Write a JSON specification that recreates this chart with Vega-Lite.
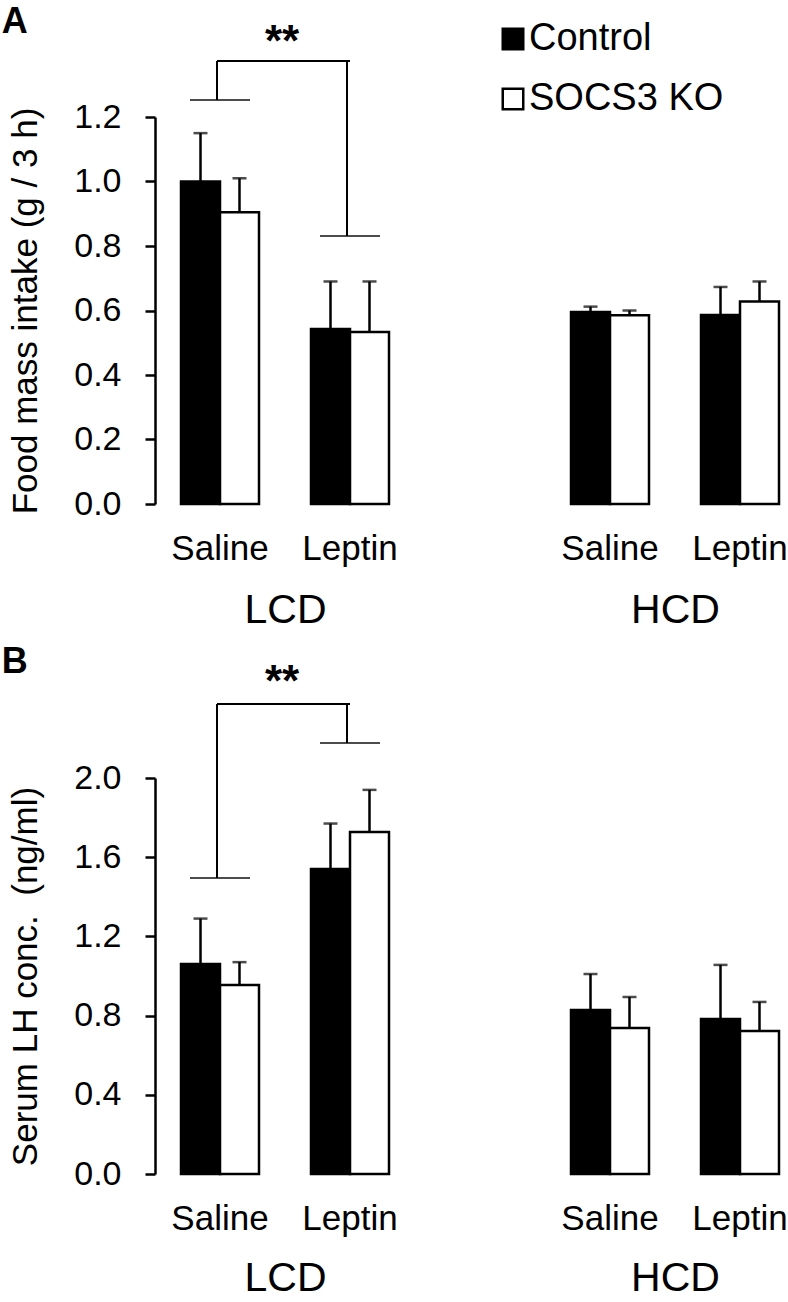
{
  "$schema": "https://vega.github.io/schema/vega-lite/v6.json",
  "padding": {"left": 1, "top": 3, "right": 2, "bottom": 0},
  "config": {
    "font": "Liberation Sans",
    "view": {"stroke": null},
    "axis": {"labelColor": "black", "titleColor": "black", "domainColor": "black", "tickColor": "black", "grid": false, "titleFontWeight": "normal"}
  },
  "resolve": {"scale": {"fill": "shared"}, "legend": {"fill": "shared"}},
  "spacing": 13,
  "vconcat": [
    {
      "title": {"text": "A", "anchor": "start", "frame": "bounds", "fontSize": 36, "fontWeight": "bold", "color": "black", "dx": -7, "offset": -20},
      "spacing": 130,
      "resolve": {"scale": {"fill": "shared"}, "legend": {"fill": "shared"}},
      "hconcat": [
        {
          "width": 260, "height": 387,
          "layer": [
            {
              "data": {"values": [
                {"treatment": "Saline", "genotype": "Control", "mean": 1.0, "upper": 1.15},
                {"treatment": "Saline", "genotype": "SOCS3 KO", "mean": 0.905, "upper": 1.01},
                {"treatment": "Leptin", "genotype": "Control", "mean": 0.543, "upper": 0.69},
                {"treatment": "Leptin", "genotype": "SOCS3 KO", "mean": 0.533, "upper": 0.69}
              ]},
              "layer": [
                {
                  "mark": {"type": "bar", "stroke": "black", "strokeWidth": 2.5},
                  "encoding": {
                    "x": {"field": "treatment", "type": "nominal", "scale": {"domain": ["Saline", "Leptin"], "paddingInner": 0.4, "paddingOuter": 0.2}, "axis": {"title": "LCD", "labelAngle": 0, "ticks": false, "domain": false, "labelFontSize": 35, "labelPadding": 27, "titleFontSize": 41, "titlePadding": 24, "titleFontWeight": "normal"}},
                    "xOffset": {"field": "genotype", "type": "nominal", "scale": {"domain": ["Control", "SOCS3 KO"]}},
                    "y": {"field": "mean", "type": "quantitative", "scale": {"domain": [0, 1.2], "nice": false}, "axis": {"title": "Food mass intake (g / 3 h)", "values": [0, 0.2, 0.4, 0.6, 0.8, 1.0, 1.2], "format": ".1f", "labelFontSize": 34, "titleFontSize": 35, "domainWidth": 2.5, "tickWidth": 2.5, "tickSize": 10, "labelPadding": 24, "titlePadding": 30}},
                    "fill": {"field": "genotype", "type": "nominal", "scale": {"domain": ["Control", "SOCS3 KO"], "range": ["black", "white"]}, "legend": {"title": null, "orient": "none", "legendX": 339, "legendY": -97, "symbolType": "square", "symbolSize": 420, "symbolStrokeColor": "black", "symbolStrokeWidth": 2.5, "labelFontSize": 38, "labelColor": "black", "labelLimit": 400, "rowPadding": 22, "labelOffset": -3}}
                  }
                },
                {
                  "mark": {"type": "rule", "strokeWidth": 2.5, "color": "black"},
                  "encoding": {
                    "x": {"field": "treatment", "type": "nominal", "scale": {"domain": ["Saline", "Leptin"]}},
                    "xOffset": {"field": "genotype", "type": "nominal", "scale": {"domain": ["Control", "SOCS3 KO"]}},
                    "y": {"field": "mean", "type": "quantitative", "scale": {"domain": [0, 1.2], "nice": false}},
                    "y2": {"field": "upper"}
                  }
                },
                {
                  "mark": {"type": "tick", "size": 14, "thickness": 2.5, "color": "black"},
                  "encoding": {
                    "x": {"field": "treatment", "type": "nominal", "scale": {"domain": ["Saline", "Leptin"]}},
                    "xOffset": {"field": "genotype", "type": "nominal", "scale": {"domain": ["Control", "SOCS3 KO"]}},
                    "y": {"field": "upper", "type": "quantitative", "scale": {"domain": [0, 1.2], "nice": false}}
                  }
                }
              ]
            },
            {
              "data": {"values": [
                {"treatment": "Saline", "level": 1.253, "top": 1.374},
                {"treatment": "Leptin", "level": 0.831, "top": 1.374}
              ]},
              "layer": [
                {
                  "mark": {"type": "tick", "size": 60, "thickness": 2, "color": "black"},
                  "encoding": {
                    "x": {"field": "treatment", "type": "nominal", "scale": {"domain": ["Saline", "Leptin"]}},
                    "y": {"field": "level", "type": "quantitative", "scale": {"domain": [0, 1.2], "nice": false}}
                  }
                },
                {
                  "mark": {"type": "rule", "strokeWidth": 2, "color": "black", "xOffset": -3},
                  "encoding": {
                    "x": {"field": "treatment", "type": "nominal", "scale": {"domain": ["Saline", "Leptin"]}},
                    "y": {"field": "level", "type": "quantitative", "scale": {"domain": [0, 1.2], "nice": false}},
                    "y2": {"field": "top"}
                  }
                }
              ]
            },
            {
              "data": {"values": [
                {"from": "Saline", "to": "Leptin", "top": 1.374, "star": 1.43, "label": "**"}
              ]},
              "layer": [
                {
                  "mark": {"type": "rule", "strokeWidth": 2, "color": "black", "xOffset": -3},
                  "encoding": {
                    "x": {"field": "from", "type": "nominal", "scale": {"domain": ["Saline", "Leptin"]}},
                    "x2": {"field": "to"},
                    "y": {"field": "top", "type": "quantitative", "scale": {"domain": [0, 1.2], "nice": false}}
                  }
                },
                {
                  "mark": {"type": "text", "fontSize": 44, "fontWeight": "bold", "color": "black", "dx": 62, "baseline": "middle", "align": "center"},
                  "encoding": {
                    "x": {"field": "from", "type": "nominal", "scale": {"domain": ["Saline", "Leptin"]}},
                    "y": {"field": "star", "type": "quantitative", "scale": {"domain": [0, 1.2], "nice": false}},
                    "text": {"field": "label"}
                  }
                }
              ]
            }
          ]
        },
        {
          "width": 260, "height": 387,
          "data": {"values": [
            {"treatment": "Saline", "genotype": "Control", "mean": 0.595, "upper": 0.612},
            {"treatment": "Saline", "genotype": "SOCS3 KO", "mean": 0.585, "upper": 0.6},
            {"treatment": "Leptin", "genotype": "Control", "mean": 0.586, "upper": 0.673},
            {"treatment": "Leptin", "genotype": "SOCS3 KO", "mean": 0.628, "upper": 0.69}
          ]},
          "layer": [
            {
              "mark": {"type": "bar", "stroke": "black", "strokeWidth": 2.5},
              "encoding": {
                "x": {"field": "treatment", "type": "nominal", "scale": {"domain": ["Saline", "Leptin"], "paddingInner": 0.4, "paddingOuter": 0.2}, "axis": {"title": "HCD", "labelAngle": 0, "ticks": false, "domain": false, "labelFontSize": 35, "labelPadding": 27, "titleFontSize": 41, "titlePadding": 24, "titleFontWeight": "normal"}},
                "xOffset": {"field": "genotype", "type": "nominal", "scale": {"domain": ["Control", "SOCS3 KO"]}},
                "y": {"field": "mean", "type": "quantitative", "scale": {"domain": [0, 1.2], "nice": false}, "axis": null},
                "fill": {"field": "genotype", "type": "nominal", "scale": {"domain": ["Control", "SOCS3 KO"], "range": ["black", "white"]}, "legend": {"title": null, "orient": "none", "legendX": 339, "legendY": -97, "symbolType": "square", "symbolSize": 420, "symbolStrokeColor": "black", "symbolStrokeWidth": 2.5, "labelFontSize": 38, "labelColor": "black", "labelLimit": 400, "rowPadding": 22, "labelOffset": -3}}
              }
            },
            {
              "mark": {"type": "rule", "strokeWidth": 2.5, "color": "black"},
              "encoding": {
                "x": {"field": "treatment", "type": "nominal", "scale": {"domain": ["Saline", "Leptin"]}},
                "xOffset": {"field": "genotype", "type": "nominal", "scale": {"domain": ["Control", "SOCS3 KO"]}},
                "y": {"field": "mean", "type": "quantitative", "scale": {"domain": [0, 1.2], "nice": false}},
                "y2": {"field": "upper"}
              }
            },
            {
              "mark": {"type": "tick", "size": 14, "thickness": 2.5, "color": "black"},
              "encoding": {
                "x": {"field": "treatment", "type": "nominal", "scale": {"domain": ["Saline", "Leptin"]}},
                "xOffset": {"field": "genotype", "type": "nominal", "scale": {"domain": ["Control", "SOCS3 KO"]}},
                "y": {"field": "upper", "type": "quantitative", "scale": {"domain": [0, 1.2], "nice": false}}
              }
            }
          ]
        }
      ]
    },
    {
      "title": {"text": "B", "anchor": "start", "frame": "bounds", "fontSize": 36, "fontWeight": "bold", "color": "black", "dx": -7, "offset": -20},
      "spacing": 130,
      "resolve": {"scale": {"fill": "shared"}, "legend": {"fill": "shared"}},
      "hconcat": [
        {
          "width": 260, "height": 396,
          "layer": [
            {
              "data": {"values": [
                {"treatment": "Saline", "genotype": "Control", "mean": 1.06, "upper": 1.29},
                {"treatment": "Saline", "genotype": "SOCS3 KO", "mean": 0.955, "upper": 1.07},
                {"treatment": "Leptin", "genotype": "Control", "mean": 1.54, "upper": 1.77},
                {"treatment": "Leptin", "genotype": "SOCS3 KO", "mean": 1.727, "upper": 1.94}
              ]},
              "layer": [
                {
                  "mark": {"type": "bar", "stroke": "black", "strokeWidth": 2.5},
                  "encoding": {
                    "x": {"field": "treatment", "type": "nominal", "scale": {"domain": ["Saline", "Leptin"], "paddingInner": 0.4, "paddingOuter": 0.2}, "axis": {"title": "LCD", "labelAngle": 0, "ticks": false, "domain": false, "labelFontSize": 35, "labelPadding": 27, "titleFontSize": 41, "titlePadding": 22, "titleFontWeight": "normal"}},
                    "xOffset": {"field": "genotype", "type": "nominal", "scale": {"domain": ["Control", "SOCS3 KO"]}},
                    "y": {"field": "mean", "type": "quantitative", "scale": {"domain": [0, 2.0], "nice": false}, "axis": {"title": "Serum LH conc.\u00a0 (ng/ml)", "values": [0, 0.4, 0.8, 1.2, 1.6, 2.0], "format": ".1f", "labelFontSize": 34, "titleFontSize": 35, "domainWidth": 2.5, "tickWidth": 2.5, "tickSize": 10, "labelPadding": 24, "titlePadding": 30}},
                    "fill": {"field": "genotype", "type": "nominal", "scale": {"domain": ["Control", "SOCS3 KO"], "range": ["black", "white"]}, "legend": {"title": null, "orient": "none", "legendX": 339, "legendY": -97, "symbolType": "square", "symbolSize": 420, "symbolStrokeColor": "black", "symbolStrokeWidth": 2.5, "labelFontSize": 38, "labelColor": "black", "labelLimit": 400, "rowPadding": 22, "labelOffset": -3}}
                  }
                },
                {
                  "mark": {"type": "rule", "strokeWidth": 2.5, "color": "black"},
                  "encoding": {
                    "x": {"field": "treatment", "type": "nominal", "scale": {"domain": ["Saline", "Leptin"]}},
                    "xOffset": {"field": "genotype", "type": "nominal", "scale": {"domain": ["Control", "SOCS3 KO"]}},
                    "y": {"field": "mean", "type": "quantitative", "scale": {"domain": [0, 2.0], "nice": false}},
                    "y2": {"field": "upper"}
                  }
                },
                {
                  "mark": {"type": "tick", "size": 14, "thickness": 2.5, "color": "black"},
                  "encoding": {
                    "x": {"field": "treatment", "type": "nominal", "scale": {"domain": ["Saline", "Leptin"]}},
                    "xOffset": {"field": "genotype", "type": "nominal", "scale": {"domain": ["Control", "SOCS3 KO"]}},
                    "y": {"field": "upper", "type": "quantitative", "scale": {"domain": [0, 2.0], "nice": false}}
                  }
                }
              ]
            },
            {
              "data": {"values": [
                {"treatment": "Saline", "level": 1.495, "top": 2.374},
                {"treatment": "Leptin", "level": 2.177, "top": 2.374}
              ]},
              "layer": [
                {
                  "mark": {"type": "tick", "size": 60, "thickness": 2, "color": "black"},
                  "encoding": {
                    "x": {"field": "treatment", "type": "nominal", "scale": {"domain": ["Saline", "Leptin"]}},
                    "y": {"field": "level", "type": "quantitative", "scale": {"domain": [0, 2.0], "nice": false}}
                  }
                },
                {
                  "mark": {"type": "rule", "strokeWidth": 2, "color": "black", "xOffset": -3},
                  "encoding": {
                    "x": {"field": "treatment", "type": "nominal", "scale": {"domain": ["Saline", "Leptin"]}},
                    "y": {"field": "level", "type": "quantitative", "scale": {"domain": [0, 2.0], "nice": false}},
                    "y2": {"field": "top"}
                  }
                }
              ]
            },
            {
              "data": {"values": [
                {"from": "Saline", "to": "Leptin", "top": 2.374, "star": 2.48, "label": "**"}
              ]},
              "layer": [
                {
                  "mark": {"type": "rule", "strokeWidth": 2, "color": "black", "xOffset": -3},
                  "encoding": {
                    "x": {"field": "from", "type": "nominal", "scale": {"domain": ["Saline", "Leptin"]}},
                    "x2": {"field": "to"},
                    "y": {"field": "top", "type": "quantitative", "scale": {"domain": [0, 2.0], "nice": false}}
                  }
                },
                {
                  "mark": {"type": "text", "fontSize": 44, "fontWeight": "bold", "color": "black", "dx": 62, "baseline": "middle", "align": "center"},
                  "encoding": {
                    "x": {"field": "from", "type": "nominal", "scale": {"domain": ["Saline", "Leptin"]}},
                    "y": {"field": "star", "type": "quantitative", "scale": {"domain": [0, 2.0], "nice": false}},
                    "text": {"field": "label"}
                  }
                }
              ]
            }
          ]
        },
        {
          "width": 260, "height": 396,
          "data": {"values": [
            {"treatment": "Saline", "genotype": "Control", "mean": 0.828, "upper": 1.01},
            {"treatment": "Saline", "genotype": "SOCS3 KO", "mean": 0.737, "upper": 0.894},
            {"treatment": "Leptin", "genotype": "Control", "mean": 0.783, "upper": 1.056},
            {"treatment": "Leptin", "genotype": "SOCS3 KO", "mean": 0.722, "upper": 0.869}
          ]},
          "layer": [
            {
              "mark": {"type": "bar", "stroke": "black", "strokeWidth": 2.5},
              "encoding": {
                "x": {"field": "treatment", "type": "nominal", "scale": {"domain": ["Saline", "Leptin"], "paddingInner": 0.4, "paddingOuter": 0.2}, "axis": {"title": "HCD", "labelAngle": 0, "ticks": false, "domain": false, "labelFontSize": 35, "labelPadding": 27, "titleFontSize": 41, "titlePadding": 22, "titleFontWeight": "normal"}},
                "xOffset": {"field": "genotype", "type": "nominal", "scale": {"domain": ["Control", "SOCS3 KO"]}},
                "y": {"field": "mean", "type": "quantitative", "scale": {"domain": [0, 2.0], "nice": false}, "axis": null},
                "fill": {"field": "genotype", "type": "nominal", "scale": {"domain": ["Control", "SOCS3 KO"], "range": ["black", "white"]}, "legend": {"title": null, "orient": "none", "legendX": 339, "legendY": -97, "symbolType": "square", "symbolSize": 420, "symbolStrokeColor": "black", "symbolStrokeWidth": 2.5, "labelFontSize": 38, "labelColor": "black", "labelLimit": 400, "rowPadding": 22, "labelOffset": -3}}
              }
            },
            {
              "mark": {"type": "rule", "strokeWidth": 2.5, "color": "black"},
              "encoding": {
                "x": {"field": "treatment", "type": "nominal", "scale": {"domain": ["Saline", "Leptin"]}},
                "xOffset": {"field": "genotype", "type": "nominal", "scale": {"domain": ["Control", "SOCS3 KO"]}},
                "y": {"field": "mean", "type": "quantitative", "scale": {"domain": [0, 2.0], "nice": false}},
                "y2": {"field": "upper"}
              }
            },
            {
              "mark": {"type": "tick", "size": 14, "thickness": 2.5, "color": "black"},
              "encoding": {
                "x": {"field": "treatment", "type": "nominal", "scale": {"domain": ["Saline", "Leptin"]}},
                "xOffset": {"field": "genotype", "type": "nominal", "scale": {"domain": ["Control", "SOCS3 KO"]}},
                "y": {"field": "upper", "type": "quantitative", "scale": {"domain": [0, 2.0], "nice": false}}
              }
            }
          ]
        }
      ]
    }
  ]
}
